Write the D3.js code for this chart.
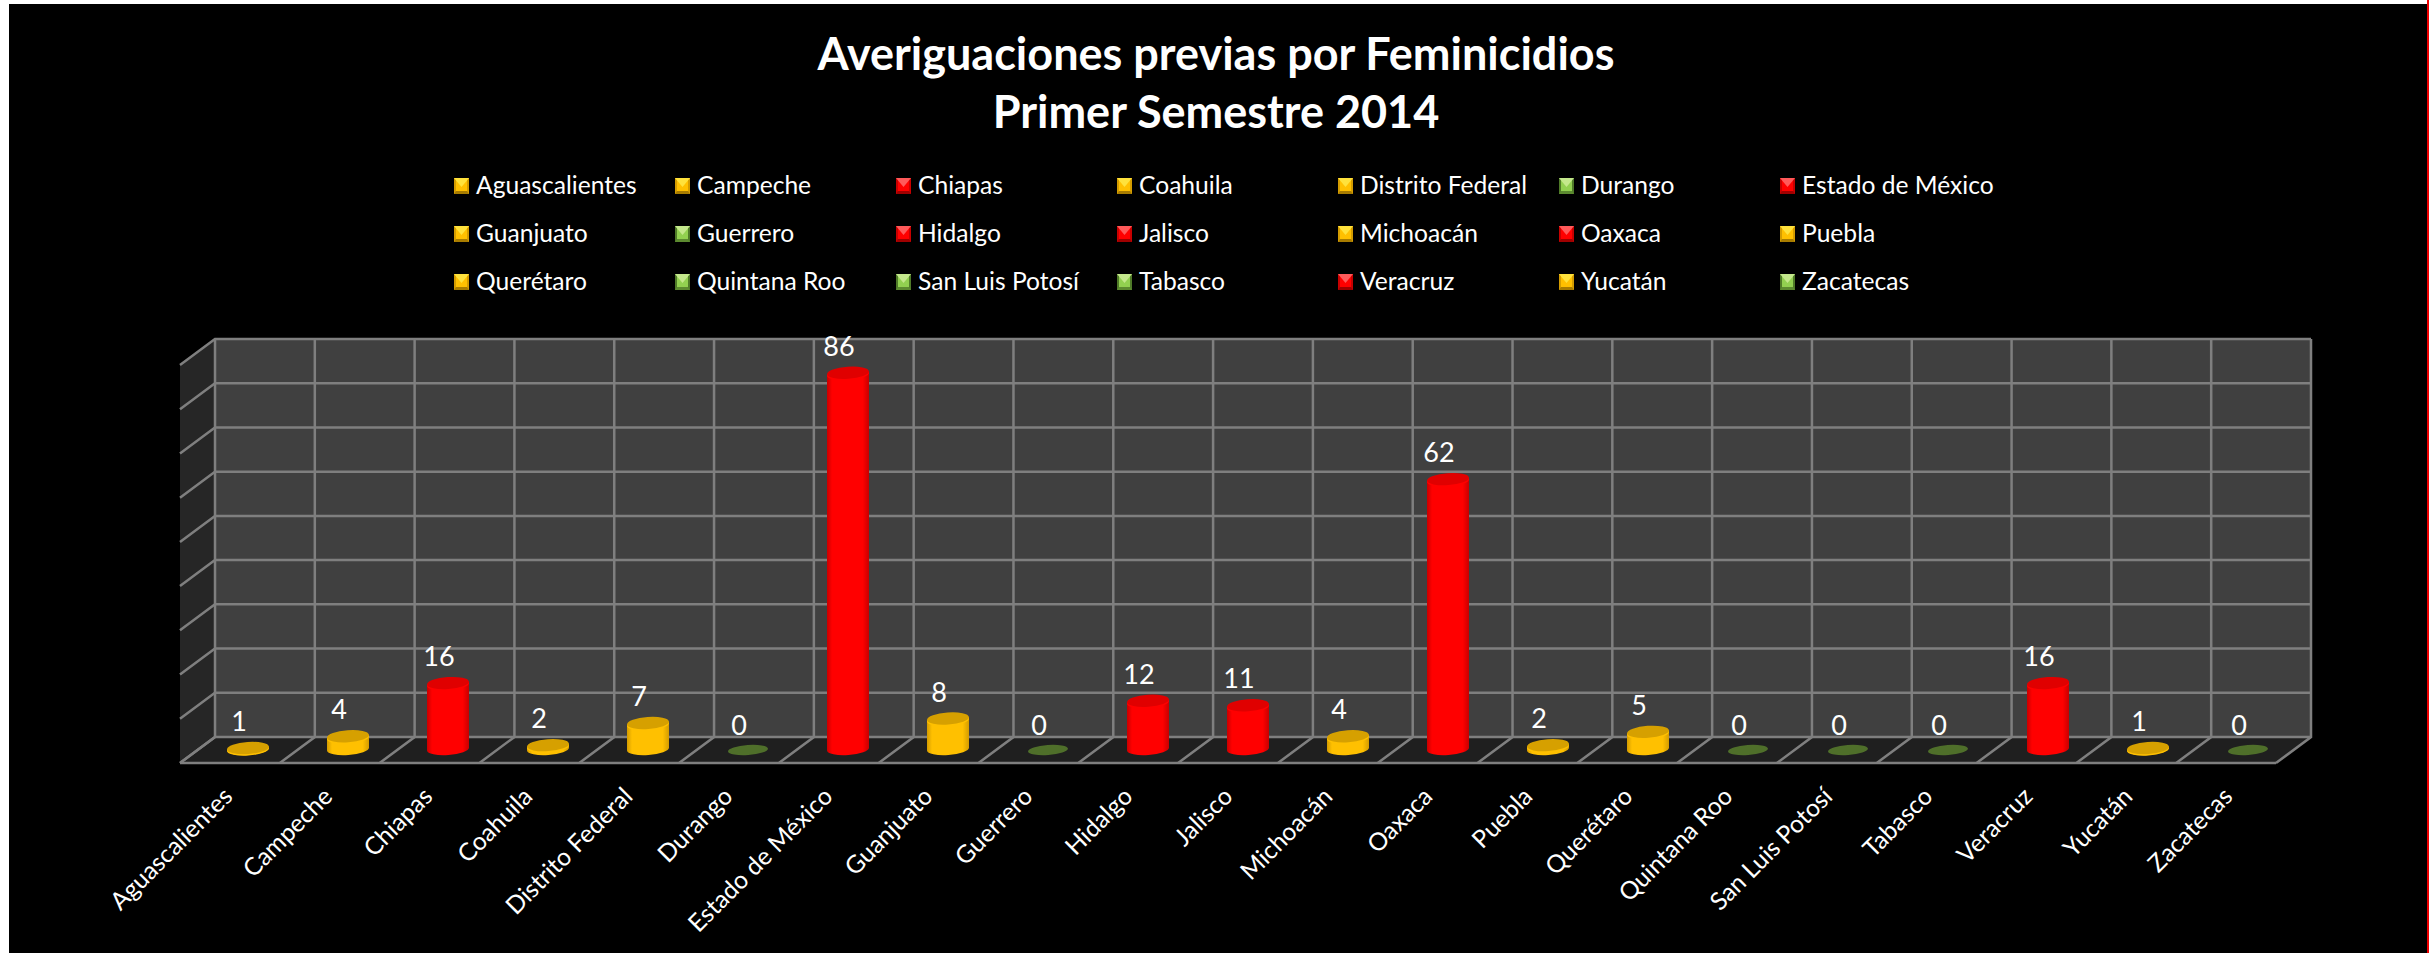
<!DOCTYPE html>
<html>
<head>
<meta charset="utf-8">
<script src="https://cdn.jsdelivr.net/npm/d3@7"></script>
<style>
  html, body { margin: 0; padding: 0; background: #fff; }
  svg { display: block; }
  text { font-family: Lato, "Open Sans", sans-serif; fill: #fff; }
</style>
</head>
<body>
<div id="chart"></div>
<script>
// Données
const states = ["Aguascalientes", "Campeche", "Chiapas", "Coahuila", "Distrito Federal", "Durango", "Estado de México",
  "Guanjuato", "Guerrero", "Hidalgo", "Jalisco", "Michoacán", "Oaxaca", "Puebla",
  "Querétaro", "Quintana Roo", "San Luis Potosí", "Tabasco", "Veracruz", "Yucatán", "Zacatecas"];
const values = [1, 4, 16, 2, 7, 0, 86, 8, 0, 12, 11, 4, 62, 2, 5, 0, 0, 0, 16, 1, 0];
const titleLines = ["Averiguaciones previas por Feminicidios", "Primer Semestre 2014"];
const yTicks = [0, 10, 20, 30, 40, 50, 60, 70, 80, 90];

const width = 2435;
const height = 953;

// Boîte 3D : mur du fond, mur gauche, sol
const back = { left: 215, right: 2311, top: 339, bottom: 737 };
const depth = { x: 35, y: 26 };
const gridColor = "#7f7f7f";

const svg = d3.select("#chart").append("svg")
  .attr("width", width)
  .attr("height", height);

// Couleur selon le nombre de cas
function palette(v) {
  if (v === 0) return { main: "#92d050", edge: "#4f7a28", dark: "#5c8a30", light: "#c4e88c", top: "#4f6f2a", rim: "#4f6f2a" };
  if (v <= 10) return { main: "#ffc000", edge: "#d49c00", dark: "#a87c00", light: "#ffe23c", top: "#d6a000", rim: "#ffc000" };
  return { main: "#ff0000", edge: "#c80000", dark: "#a00000", light: "#ff5a5a", top: "#e00000", rim: "#ff0000" };
}

const defs = svg.append("defs");
function cylinderGradient(id, c) {
  const g = defs.append("linearGradient").attr("id", id);
  g.append("stop").attr("offset", "0%").attr("stop-color", c.edge);
  g.append("stop").attr("offset", "12%").attr("stop-color", c.main);
  g.append("stop").attr("offset", "85%").attr("stop-color", c.main);
  g.append("stop").attr("offset", "100%").attr("stop-color", c.edge);
}
cylinderGradient("cyl-red", palette(20));
cylinderGradient("cyl-yellow", palette(5));

// Fond noir
svg.append("rect")
  .attr("x", 9).attr("y", 4)
  .attr("width", 2418).attr("height", height - 4)
  .attr("fill", "#000");
svg.append("rect")
  .attr("x", 2427).attr("y", 0)
  .attr("width", 2).attr("height", height)
  .attr("fill", "#f00000");

// Titre
svg.append("g").selectAll("text")
  .data(titleLines)
  .join("text")
  .attr("x", 1216)
  .attr("y", (d, i) => 70 + i * 58)
  .attr("text-anchor", "middle")
  .style("font-size", "45px")
  .style("font-weight", 700)
  .text(d => d);

// Légende
const legendCols = d3.scaleLinear().domain([0, 6]).range([454, 1780]);
const legendRows = d3.scaleLinear().domain([0, 2]).range([186, 282]);
const legend = svg.append("g").selectAll("g")
  .data(states)
  .join("g")
  .attr("transform", (d, i) => `translate(${legendCols(i % 7)},${legendRows(Math.floor(i / 7))})`);

legend.each(function (d, i) {
  const c = palette(values[i]);
  const g = d3.select(this);
  const w = 15, h = 16, side = 2, foot = 3;
  g.append("rect").attr("x", 0).attr("y", -h / 2).attr("width", w).attr("height", h).attr("fill", c.edge);
  g.append("path").attr("d", `M${side},${-h / 2}H${w - side}V${h / 2 - foot}H${side}Z`).attr("fill", c.main);
  g.append("path").attr("d", `M0,${-h / 2}H${w}L${w / 2},${-h / 2 + 9}Z`).attr("fill", c.light);
  g.append("path").attr("d", `M0,${h / 2}H${w}L${w - side},${h / 2 - foot}H${side}Z`).attr("fill", c.dark);
});
legend.append("text")
  .attr("x", 22)
  .attr("y", 8)
  .style("font-size", "24.6px")
  .text(d => d);

// Échelles
const x = d3.scaleBand().domain(states).range([198, 2298]);
const xBack = d3.scaleLinear().domain([0, states.length]).range([back.left, back.right]);
const yWall = d3.scaleLinear().domain([0, 90]).range([back.bottom, back.top]);
const yBar = d3.scaleLinear().domain([0, 90]).range([754, 355]);

// Murs et sol
const box = svg.append("g");
box.append("rect")
  .attr("x", back.left).attr("y", back.top)
  .attr("width", back.right - back.left).attr("height", back.bottom - back.top)
  .attr("fill", "#404040");
box.append("path")
  .attr("d", `M${back.left},${back.top}L${back.left - depth.x},${back.top + depth.y}V${back.bottom + depth.y}L${back.left},${back.bottom}Z`)
  .attr("fill", "#262626");
box.append("path")
  .attr("d", `M${back.left},${back.bottom}H${back.right}L${back.right - depth.x},${back.bottom + depth.y}H${back.left - depth.x}Z`)
  .attr("fill", "#1f1f1f");

// Grille
const grid = box.append("g")
  .attr("stroke", gridColor)
  .attr("stroke-width", 2.5)
  .attr("fill", "none");
grid.selectAll(".h")
  .data(yTicks)
  .join("path")
  .attr("class", "h")
  .attr("d", d => `M${back.left - depth.x},${yWall(d) + depth.y}L${back.left},${yWall(d)}H${back.right}`);
grid.selectAll(".v")
  .data(d3.range(states.length + 1))
  .join("path")
  .attr("class", "v")
  .attr("d", d => `M${xBack(d) - depth.x},${back.bottom + depth.y}L${xBack(d)},${back.bottom}V${back.top}`);
grid.append("path")
  .attr("d", `M${back.left - depth.x},${back.bottom + depth.y}H${back.right - depth.x}`);

// Cylindres
const rx = 21, ry = 6, tilt = -4;
const slant = rx * Math.sin(-tilt * Math.PI / 180);
const floorY = 749;
const bars = svg.append("g").selectAll("g")
  .data(states.map((s, i) => ({ state: s, value: values[i] })))
  .join("g")
  .attr("transform", d => `translate(${x(d.state) + x.bandwidth() / 2},0)`);

// Le haut du cylindre ne descend pas sous le sol
function topOf(v) {
  return v > 0 ? Math.min(yBar(v), floorY - 1) : 750;
}

bars.each(function (d) {
  const g = d3.select(this);
  const c = palette(d.value);
  const topY = topOf(d.value);
  if (d.value > 0) {
    const fill = d.value > 10 ? "url(#cyl-red)" : "url(#cyl-yellow)";
    g.append("path")
      .attr("d", `M${-rx},${topY + slant}V${floorY + slant}A${rx},${ry} ${tilt} 0 0 ${rx},${floorY - slant}V${topY - slant}Z`)
      .attr("fill", fill);
    // liseré clair à l'avant du disque
    g.append("ellipse")
      .attr("cy", topY + 1.5)
      .attr("rx", rx).attr("ry", ry)
      .attr("transform", `rotate(${tilt} 0 ${topY + 1.5})`)
      .attr("fill", c.rim);
  }
  g.append("ellipse")
    .attr("cy", topY)
    .attr("rx", d.value > 0 ? rx : 20).attr("ry", d.value > 0 ? ry : 5)
    .attr("transform", `rotate(${tilt} 0 ${topY})`)
    .attr("fill", c.top);
});

// Étiquettes de valeurs
bars.append("text")
  .attr("x", -9)
  .attr("y", d => (d.value > 0 ? topOf(d.value) : 752) - 17)
  .attr("text-anchor", "middle")
  .style("font-size", "27px")
  .text(d => d.value);

// Étiquettes de l'axe
svg.append("g").selectAll("text")
  .data(states)
  .join("text")
  .attr("text-anchor", "end")
  .attr("transform", d => `translate(${x(d) + x.bandwidth() / 2 - 14},798) rotate(-45)`)
  .style("font-size", "24.6px")
  .text(d => d);
</script>
</body>
</html>
